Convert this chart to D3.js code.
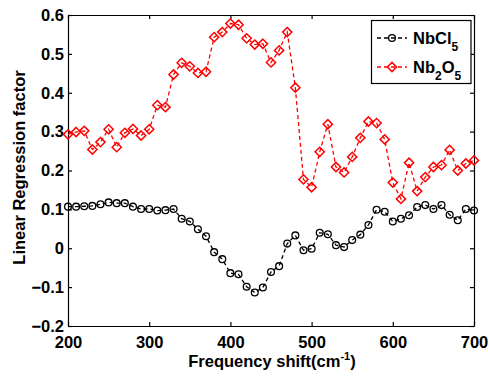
<!DOCTYPE html>
<html>
<head>
<meta charset="utf-8">
<script src="https://cdn.jsdelivr.net/npm/d3@7"></script>
<style>
  body { margin: 0; background: white; }
  svg text { font-family: 'Liberation Sans', Arial, sans-serif; font-weight: bold; }
</style>
</head>
<body>
<script>
const freq = d3.range(200, 701, 10)
const nbcl5 = [0.107, 0.107, 0.108, 0.109, 0.113, 0.118, 0.116, 0.116, 0.107, 0.101,
  0.101, 0.097, 0.098, 0.101, 0.076, 0.069, 0.049, 0.031, -0.010, -0.028,
  -0.064, -0.067, -0.099, -0.114, -0.101, -0.061, -0.046, 0.012, 0.033, -0.005,
  -0.001, 0.040, 0.036, 0.008, 0.003, 0.021, 0.035, 0.060, 0.099, 0.094,
  0.069, 0.076, 0.085, 0.106, 0.111, 0.101, 0.111, 0.086, 0.072, 0.101, 0.097]
const nb2o5 = [0.293, 0.299, 0.302, 0.254, 0.273, 0.306, 0.260, 0.297, 0.307, 0.290,
  0.306, 0.368, 0.363, 0.447, 0.477, 0.468, 0.451, 0.454, 0.543, 0.556,
  0.578, 0.575, 0.540, 0.524, 0.526, 0.478, 0.509, 0.556, 0.413, 0.177,
  0.157, 0.248, 0.319, 0.209, 0.195, 0.235, 0.284, 0.326, 0.322, 0.280,
  0.169, 0.127, 0.220, 0.147, 0.183, 0.209, 0.214, 0.253, 0.200, 0.218, 0.226]
const xTicks = [200, 300, 400, 500, 600, 700]
const yTicks = [-0.2, -0.1, 0, 0.1, 0.2, 0.3, 0.4, 0.5, 0.6]

const width = 489
const height = 377
const padL = 68, padR = 474, padT = 15, padB = 326

const svg = d3.select('body').append('svg').attr('width', width).attr('height', height)

const xScale = d3.scaleLinear().domain([200, 700]).range([padL, padR])
const yScale = d3.scaleLinear().domain([-0.2, 0.6]).range([padB, padT])

// axes, ticks pointing inward, mirrored on top/right
const fmt = (d) => d === 0 ? '0' : d3.format('.1f')(d)
svg.append('g').attr('transform', `translate(0, ${padB})`)
  .call(d3.axisBottom(xScale).tickValues(xTicks).tickSizeInner(-4).tickSizeOuter(0).tickPadding(10))
svg.append('g').attr('transform', `translate(0, ${padT})`)
  .call(d3.axisTop(xScale).tickValues(xTicks).tickSizeInner(-4).tickSizeOuter(0).tickFormat(''))
svg.append('g').attr('transform', `translate(${padL}, 0)`)
  .call(d3.axisLeft(yScale).tickValues(yTicks).tickSizeInner(-4).tickSizeOuter(0).tickPadding(4).tickFormat(fmt))
svg.append('g').attr('transform', `translate(${padR}, 0)`)
  .call(d3.axisRight(yScale).tickValues(yTicks).tickSizeInner(-4).tickSizeOuter(0).tickFormat(''))
svg.selectAll('.domain, .tick line').attr('stroke', '#000').attr('stroke-width', 1.2)
svg.selectAll('.tick text').attr('font-size', 16.5).attr('fill', '#000')

// axis titles
const xt = svg.append('text').attr('x', (padL + padR) / 2 + 1).attr('y', 367)
  .attr('text-anchor', 'middle').attr('font-size', 16.5)
xt.append('tspan').text('Frequency shift(cm')
xt.append('tspan').attr('font-size', 11).attr('dy', -7).text('-1')
xt.append('tspan').attr('dy', 7).text(')')

svg.append('text').attr('transform', `translate(25, ${(padT + padB) / 2 - 3}) rotate(-90)`)
  .attr('text-anchor', 'middle').attr('font-size', 16.5).text('Linear Regression factor')

const line = d3.line().x((d, i) => xScale(freq[i])).y((d) => yScale(d))

const series = [
  { name: 'NbCl5', values: nbcl5, color: '#000', marker: 'circle' },
  { name: 'Nb2O5', values: nb2o5, color: '#ff0000', marker: 'diamond' }
]

const drawMarker = (g, type, x, y, color) => {
  if (type === 'circle') {
    g.append('circle').attr('cx', x).attr('cy', y).attr('r', 3.4)
      .attr('fill', 'none').attr('stroke', color).attr('stroke-width', 1.3)
  } else {
    const s = 4.6
    g.append('path').attr('d', `M${x},${y - s}L${x + s},${y}L${x},${y + s}L${x - s},${y}Z`)
      .attr('fill', 'none').attr('stroke', color).attr('stroke-width', 1.5)
  }
}

series.forEach((s) => {
  svg.append('path').datum(s.values).attr('d', line)
    .attr('fill', 'none').attr('stroke', s.color).attr('stroke-width', 1.3)
    .attr('stroke-dasharray', '4,3')
  const g = svg.append('g')
  s.values.forEach((v, i) => drawMarker(g, s.marker, xScale(freq[i]), yScale(v), s.color))
})

// legend
const lg = svg.append('g')
lg.append('rect').attr('x', 371.5).attr('y', 20.5).attr('width', 99.5).attr('height', 63)
  .attr('fill', 'white').attr('stroke', '#000').attr('stroke-width', 1.2)
const labels = [['NbCl', '5', null, null], ['Nb', '2', 'O', '5']]
series.forEach((s, i) => {
  const y = 38 + i * 29
  lg.append('line').attr('x1', 377).attr('x2', 407).attr('y1', y).attr('y2', y)
    .attr('stroke', s.color).attr('stroke-width', 1.3).attr('stroke-dasharray', '4,3')
  drawMarker(lg, s.marker, 392, y, s.color)
  const t = lg.append('text').attr('x', 413).attr('y', y + 6).attr('font-size', 16.5)
  const [a, b, c, d] = labels[i]
  t.append('tspan').text(a)
  t.append('tspan').attr('font-size', 12).attr('dy', 7).text(b)
  if (c) {
    t.append('tspan').attr('dy', -7).text(c)
    t.append('tspan').attr('font-size', 12).attr('dy', 7).text(d)
  }
})
</script>
</body>
</html>
